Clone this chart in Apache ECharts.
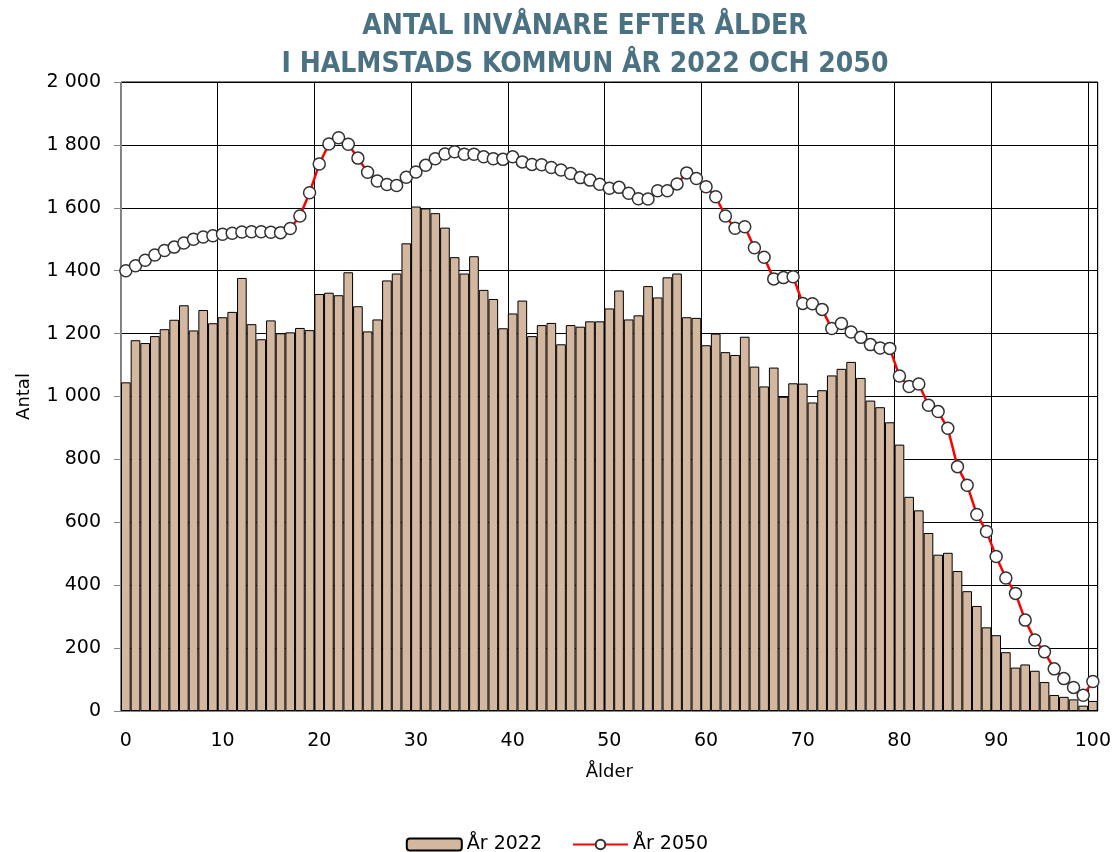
<!DOCTYPE html>
<html>
<head>
<meta charset="utf-8">
<script src="https://cdn.jsdelivr.net/npm/echarts@6/dist/echarts.min.js"></script>
<style>
  html, body { margin: 0; padding: 0; background: #fff; }
  #chart { width: 1114px; height: 852px; }
</style>
</head>
<body>
<div id="chart"></div>
<script>
// ålder 0..100
const ages = [];
for (let i = 0; i <= 100; i++) ages.push(String(i));

// invånare år 2022 (staplar)
const pop2022 = [
  1045, 1179, 1170, 1192, 1214, 1244, 1290, 1210, 1275, 1233,
  1252, 1269, 1377, 1230, 1182, 1242, 1201, 1204, 1218, 1211,
  1326, 1330, 1322, 1395, 1287, 1207, 1245, 1369, 1391, 1487,
  1604, 1598, 1583, 1537, 1443, 1391, 1446, 1339, 1310, 1217,
  1264, 1305, 1192, 1227, 1234, 1166, 1227, 1222, 1239, 1239,
  1280, 1337, 1245, 1258, 1351, 1315, 1379, 1391, 1252, 1250,
  1163, 1200, 1141, 1132, 1190, 1095, 1032, 1092, 999, 1042,
  1041, 981, 1020, 1067, 1088, 1110, 1059, 987, 966, 918,
  847, 681, 638, 566, 497, 503, 445, 381, 334, 266,
  241, 187, 138, 148, 128, 92, 51, 45, 37, 17,
  32
];

// prognos år 2050 (linje)
const pop2050 = [
  1400, 1416, 1433, 1450, 1464, 1475, 1488, 1500, 1507, 1511,
  1516, 1519, 1523, 1524, 1524, 1522, 1521, 1534, 1574, 1648,
  1739, 1803, 1823, 1802, 1758, 1713, 1685, 1674, 1671, 1697,
  1714, 1735, 1756, 1771, 1778, 1770, 1770, 1762, 1756, 1754,
  1762, 1746, 1738, 1737, 1728, 1720, 1709, 1696, 1688, 1675,
  1662, 1665, 1646, 1629, 1628, 1654, 1654, 1676, 1711, 1693,
  1667, 1635, 1574, 1535, 1540, 1473, 1443, 1374, 1378, 1381,
  1296, 1295, 1277, 1216, 1232, 1205, 1188, 1165, 1154, 1153,
  1065, 1032, 1040, 972, 952, 899, 777, 718, 625, 571,
  491, 423, 374, 289, 226, 188, 134, 103, 75, 50,
  94
];

const seriesNames = ['År 2022', 'År 2050'];

const chart = echarts.init(document.getElementById('chart'));
const baseFont = 'DejaVu Sans';

chart.setOption({
  animation: false,
  title: {
    text: 'ANTAL INVÅNARE EFTER ÅLDER\nI HALMSTADS KOMMUN ÅR 2022 OCH 2050',
    left: 585,
    textAlign: 'center',
    top: 8,
    padding: 0,
    textStyle: {
      fontFamily: "'Liberation Sans Narrow', 'DejaVu Sans Condensed', Roboto, sans-serif",
      fontWeight: 'bold',
      fontSize: 28,
      lineHeight: 38,
      color: '#4A7282'
    }
  },
  legend: {
    data: seriesNames,
    left: 'center',
    top: 830,
    itemWidth: 55,
    itemHeight: 12,
    itemGap: 30,
    textStyle: {fontFamily: baseFont, fontSize: 19, color: '#000'}
  },
  grid: {
    left: 121,
    right: 16,
    top: 82,
    bottom: 141,
    show: true,
    borderColor: '#000',
    borderWidth: 1
  },
  xAxis: [
    {
      type: 'category',
      data: ages,
      position: 'bottom',
      name: 'Ålder',
      nameLocation: 'middle',
      nameGap: 52,
      nameTextStyle: {fontFamily: baseFont, fontSize: 18, color: '#000'},
      axisLine: {lineStyle: {color: '#868686', width: 1}},
      axisTick: {interval: 0, length: 3, lineStyle: {color: '#868686'}},
      axisLabel: {interval: 9, margin: 21, fontFamily: baseFont, fontSize: 19, color: '#000'},
      splitLine: {show: false}
    },
    {
      type: 'category',
      data: ages,
      position: 'bottom',
      axisLine: {show: false},
      axisTick: {interval: 9, length: 7, lineStyle: {color: '#868686'}},
      axisLabel: {show: false},
      splitLine: {show: true, interval: 9, lineStyle: {color: '#000', width: 1}}
    }
  ],
  yAxis: {
    type: 'value',
    min: 0,
    max: 2000,
    interval: 200,
    name: 'Antal',
    nameLocation: 'middle',
    nameGap: 88,
    nameTextStyle: {fontFamily: baseFont, fontSize: 18, color: '#000'},
    axisLine: {show: true, lineStyle: {color: '#868686', width: 1}},
    axisTick: {show: true, length: 7, lineStyle: {color: '#868686'}},
    axisLabel: {
      margin: 20,
      fontFamily: baseFont,
      fontSize: 19,
      color: '#000',
      formatter: function (v) {
        return v >= 1000 ? Math.floor(v / 1000) + ' ' + String(v % 1000).padStart(3, '0') : String(v);
      }
    },
    splitLine: {lineStyle: {color: '#000', width: 1}}
  },
  series: [
    {
      name: seriesNames[0],
      type: 'bar',
      xAxisIndex: 0,
      data: pop2022,
      barCategoryGap: 0,
      itemStyle: {
        color: '#D3B79F',
        borderColor: '#000',
        borderWidth: 1
      }
    },
    {
      name: seriesNames[1],
      type: 'line',
      xAxisIndex: 0,
      data: pop2050,
      symbol: 'circle',
      symbolSize: 12,
      showAllSymbol: true,
      z: 5,
      lineStyle: {color: '#FF0000', width: 2.5},
      itemStyle: {color: '#FFFFFF', borderColor: '#333333', borderWidth: 1.5}
    }
  ]
});
</script>
</body>
</html>
